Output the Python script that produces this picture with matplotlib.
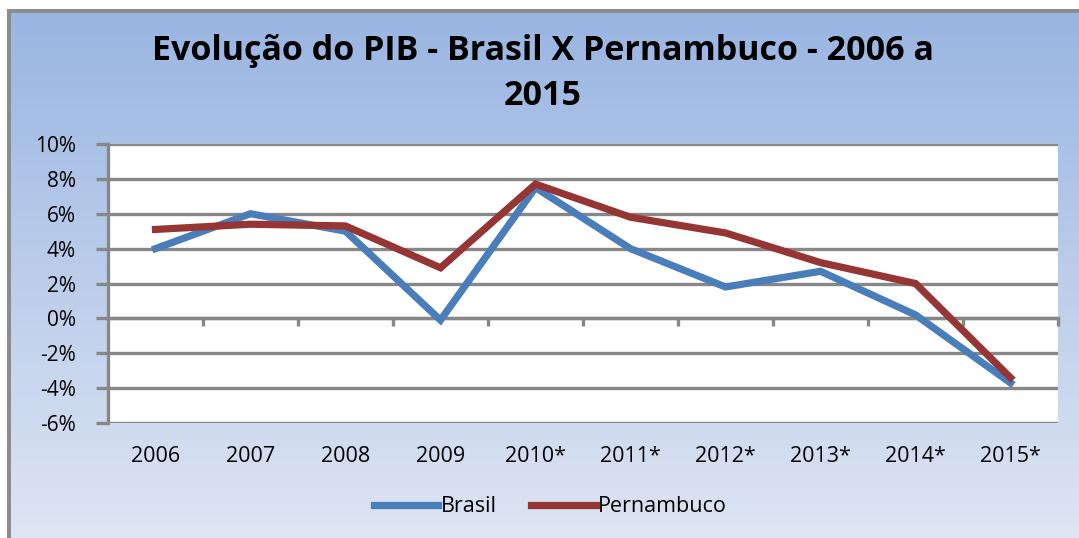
import numpy as np
import matplotlib.pyplot as plt
from matplotlib.colors import LinearSegmentedColormap
from matplotlib.transforms import blended_transform_factory
from matplotlib.patches import Rectangle

years = ["2006", "2007", "2008", "2009", "2010*", "2011*", "2012*", "2013*", "2014*", "2015*"]
brasil = [4.0, 6.0, 5.0, -0.1, 7.5, 4.0, 1.8, 2.7, 0.2, -3.7]
pernambuco = [5.1, 5.4, 5.3, 2.9, 7.7, 5.8, 4.9, 3.2, 2.0, -3.4]
yticks = [-6, -4, -2, 0, 2, 4, 6, 8, 10]

W, H = 1079, 538
fig = plt.figure(figsize=(W / 100, H / 100), dpi=100)
fig.patch.set_facecolor("white")

# gradient background
bg = fig.add_axes([0, 0, 1, 1], zorder=0)
bg.set_axis_off()
cmap = LinearSegmentedColormap.from_list("g", ["#99B5E2", "#DEE5F3"])
grad = np.linspace(0, 1, 256).reshape(-1, 1)
bg.imshow(grad, cmap=cmap, aspect="auto", extent=[10 / W, 1, 0, 1 - 11 / H],
          origin="upper")
bg.set_xlim(0, 1)
bg.set_ylim(0, 1)
bg.add_patch(Rectangle((7 / W, 0), 4 / W, 1 - 9 / H, color="#8C8C8C", lw=0))
bg.add_patch(Rectangle((7 / W, 1 - 13 / H), 1, 4 / H, color="#8C8C8C", lw=0))

L, R, T, B = 108, 1058, 144, 423
ax = fig.add_axes([L / W, 1 - B / H, (R - L) / W, (B - T) / H], zorder=1)
ax.set_facecolor("white")
x = np.arange(len(years))
ax.set_xlim(-0.5, len(years) - 0.5)
ax.set_ylim(-6, 10)

grid_c = "#878787"
for v in yticks:
    ax.axhline(v, color=grid_c, lw=2.4, zorder=1)

ax.plot(x, brasil, color="#4A7EBB", lw=5.2, zorder=3, label="Brasil",
        solid_joinstyle="miter")
ax.plot(x, pernambuco, color="#963634", lw=5.2, zorder=3, label="Pernambuco",
        solid_joinstyle="miter")

for s in ["top", "right"]:
    ax.spines[s].set_visible(False)
ax.spines["left"].set_color(grid_c)
ax.spines["left"].set_linewidth(2.4)
ax.spines["bottom"].set_position(("data", 0))
ax.spines["bottom"].set_color(grid_c)
ax.spines["bottom"].set_linewidth(2.4)

ax.set_yticks(yticks)
ax.set_yticklabels([f"{v}%" for v in yticks], fontsize=15, family="Open Sans")
ax.tick_params(axis="y", direction="out", length=9, width=2.4, color=grid_c,
               pad=14)
ax.set_xticks(np.arange(len(years)) + 0.5)
ax.set_xticklabels([])
ax.tick_params(axis="x", direction="out", length=6, width=2.4, color=grid_c)

tr = blended_transform_factory(ax.transData, ax.transAxes)
for xi, lab in zip(x, years):
    ax.text(xi, -0.12, lab, transform=tr, ha="center", va="center",
            fontsize=15.5, family="Open Sans")

fig.text(0.503, 1 - 51 / H, "Evolução do PIB - Brasil X Pernambuco - 2006 a",
         ha="center", va="center", fontsize=24.5, fontweight="bold",
         family="Open Sans")
fig.text(0.503, 1 - 96 / H, "2015", ha="center", va="center", fontsize=24.5,
         fontweight="bold", family="Open Sans")

leg = fig.legend(loc="center", bbox_to_anchor=(0.51, 1 - 507 / H), ncol=2,
                 frameon=False, prop={"family": "Open Sans", "size": 15.5},
                 handlelength=3.0, columnspacing=1.6, handletextpad=0.1)

fig.savefig("out.png", dpi=100)
